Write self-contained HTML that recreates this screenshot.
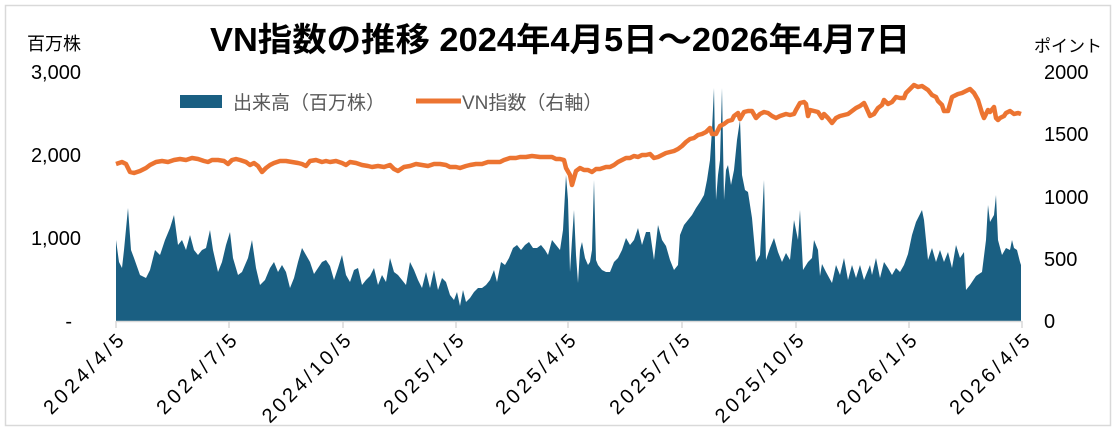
<!DOCTYPE html>
<html><head><meta charset="utf-8"><style>
body{margin:0;background:#fff}
svg text{font-family:"Liberation Sans","Noto Sans CJK JP",sans-serif}
</style></head><body>
<svg width="1116" height="430" xmlns="http://www.w3.org/2000/svg">
<rect x="5.5" y="5.5" width="1105" height="420" fill="#fff" stroke="#d9d9d9" stroke-width="1.5"/>
<text x="560" y="51" text-anchor="middle" font-size="33" font-weight="bold" fill="#000" textLength="700" lengthAdjust="spacingAndGlyphs">VN指数の推移 2024年4月5日～2026年4月7日</text>
<text x="27" y="50" font-size="18" fill="#000">百万株</text>
<text x="1034" y="52" font-size="17" fill="#000">ポイント</text>
<g font-size="20" fill="#000" text-anchor="end">
<text x="81" y="79">3,000</text><text x="81" y="162">2,000</text><text x="81" y="245">1,000</text><text x="72" y="328">-</text>
</g>
<g font-size="20" fill="#000">
<text x="1044" y="79">2000</text><text x="1044" y="141">1500</text><text x="1044" y="204">1000</text><text x="1044" y="266">500</text><text x="1044" y="328">0</text>
</g>
<rect x="180" y="95" width="42" height="13" fill="#1a5f82"/>
<text x="233" y="109" font-size="19" fill="#595959">出来高（百万株）</text>
<line x1="416" y1="101" x2="461" y2="101" stroke="#ec7431" stroke-width="5"/>
<text x="462" y="109" font-size="19" fill="#595959">VN指数（右軸）</text>
<polygon fill="#1a5f82" points="116,240 119,262 122,268 124,250 128,208 131,250 134,258 140,275 146,278 150,270 155,250 160,255 165,240 170,228 174,215 178,245 182,240 186,250 190,235 194,250 198,255 202,250 206,248 210,230 213,250 218,272 222,262 226,245 230,232 233,258 238,275 242,272 248,258 252,240 256,268 260,285 265,280 270,268 274,262 278,272 282,265 286,272 290,288 294,278 298,262 302,248 306,255 310,262 314,274 318,268 322,262 326,260 330,266 334,280 338,268 342,255 346,275 350,282 354,270 358,268 362,285 366,280 370,276 374,268 378,285 382,275 386,282 390,258 394,272 398,275 402,280 406,285 410,262 414,270 418,280 422,288 426,272 430,288 434,270 438,290 442,278 446,282 450,295 454,300 457,292 460,306 463,290 466,302 470,298 474,292 478,288 482,288 486,285 490,280 494,270 497,282 501,262 505,265 509,258 513,248 517,245 521,250 525,245 529,242 533,248 537,248 541,245 545,250 548,255 552,240 556,245 560,250 563,230 566,175 568,200 570,272 572,240 574,210 576,255 578,283 580,250 582,242 585,258 588,265 590,262 592,250 594,180 596,260 598,265 602,270 606,272 610,272 614,262 618,258 622,250 626,238 630,245 634,240 638,228 642,245 646,232 650,232 654,260 658,225 662,240 666,246 670,260 674,270 678,265 680,235 684,225 688,220 692,215 696,208 700,202 704,195 707,180 710,160 712,130 714,88 716,200 718,175 720,160 722,88 724,200 726,170 728,165 731,185 734,170 737,140 740,120 742,175 745,190 748,192 752,218 756,262 760,255 762,220 764,180 766,260 770,248 774,238 778,252 782,262 786,253 790,260 794,220 798,240 800,210 803,270 808,262 812,258 814,240 818,250 820,276 822,264 826,272 832,283 836,265 840,275 844,258 848,280 852,265 856,278 860,265 864,280 870,265 872,275 876,258 880,278 884,262 888,268 892,275 896,268 900,272 904,265 908,254 912,235 916,222 920,214 922,210 924,220 928,260 932,248 936,262 940,250 944,262 948,252 952,268 956,245 960,258 964,252 966,290 970,285 976,276 982,272 986,240 988,205 990,222 994,215 996,195 998,240 1002,255 1006,248 1010,250 1012,240 1014,248 1017,250 1020,262 1021,265 1021,321 116,321"/>
<polyline fill="none" stroke="#ec7431" stroke-width="4.5" stroke-linejoin="round" points="116,164 122,162 126,164 130,172 134,173 140,171 146,168 150,165 156,162 162,161 168,162 174,160 180,159 186,160 192,158 198,159 204,161 208,162 212,160 218,160 224,161 228,164 232,160 236,159 240,160 246,162 250,165 254,163 258,166 262,172 266,168 270,165 274,163 280,161 286,161 292,162 298,163 302,164 306,166 310,161 316,160 322,162 326,161 330,162 336,161 342,163 346,165 350,162 356,163 362,165 368,166 372,167 378,166 384,167 390,165 394,169 398,171 404,167 410,166 416,164 422,165 428,166 434,164 440,164 446,165 450,167 456,167 460,168 466,166 470,165 476,164 482,164 488,162 494,162 500,162 504,160 510,158 516,158 520,157 526,157 532,156 540,157 546,157 552,157 556,159 560,159 564,160 566,168 570,175 572,185 574,178 576,171 580,168 584,170 588,170 592,172 596,169 600,169 606,167 610,167 614,165 618,162 622,160 626,158 630,158 634,156 638,157 642,155 646,155 650,154 654,158 658,157 662,155 666,153 670,152 674,151 678,149 682,146 686,142 690,139 694,138 698,135 702,134 706,132 710,128 712,134 716,134 720,126 724,124 728,121 732,120 734,116 738,113 740,119 744,112 748,111 752,111 756,118 760,114 764,112 768,113 772,116 776,118 780,116 786,114 790,115 794,114 796,110 800,103 804,102 806,104 808,116 810,110 814,111 818,112 822,118 824,114 828,118 832,123 836,118 840,116 844,115 848,114 852,111 856,108 860,106 864,103 866,107 870,116 874,114 878,108 882,105 884,100 888,104 892,102 896,97 900,98 904,98 906,93 910,89 914,85 918,87 922,86 928,90 932,95 936,97 938,101 942,105 944,111 948,111 952,97 958,94 962,93 966,91 970,89 974,93 978,100 982,113 984,118 988,110 990,112 994,107 996,118 998,120 1000,118 1004,116 1006,113 1010,111 1014,114 1018,113 1021,114"/>
<line x1="116" y1="321.5" x2="1022" y2="321.5" stroke="#d9d9d9" stroke-width="1.5"/>
<g stroke="#d9d9d9" stroke-width="1.5">
<line x1="116" y1="321" x2="116" y2="328"/><line x1="229" y1="321" x2="229" y2="328"/><line x1="343" y1="321" x2="343" y2="328"/><line x1="456" y1="321" x2="456" y2="328"/><line x1="568" y1="321" x2="568" y2="328"/><line x1="682" y1="321" x2="682" y2="328"/><line x1="796" y1="321" x2="796" y2="328"/><line x1="909" y1="321" x2="909" y2="328"/><line x1="1022" y1="321" x2="1022" y2="328"/>
</g>
<g font-size="20" fill="#000" text-anchor="end" lengthAdjust="spacingAndGlyphs">
<text transform="translate(125,342) rotate(-45)" textLength="104">2024/4/5</text>
<text transform="translate(238,342) rotate(-45)" textLength="104">2024/7/5</text>
<text transform="translate(352,342) rotate(-45)" textLength="116">2024/10/5</text>
<text transform="translate(465,342) rotate(-45)" textLength="104">2025/1/5</text>
<text transform="translate(577,342) rotate(-45)" textLength="104">2025/4/5</text>
<text transform="translate(691,342) rotate(-45)" textLength="104">2025/7/5</text>
<text transform="translate(805,342) rotate(-45)" textLength="116">2025/10/5</text>
<text transform="translate(918,342) rotate(-45)" textLength="104">2026/1/5</text>
<text transform="translate(1031,342) rotate(-45)" textLength="104">2026/4/5</text>
</g>
</svg>
</body></html>
